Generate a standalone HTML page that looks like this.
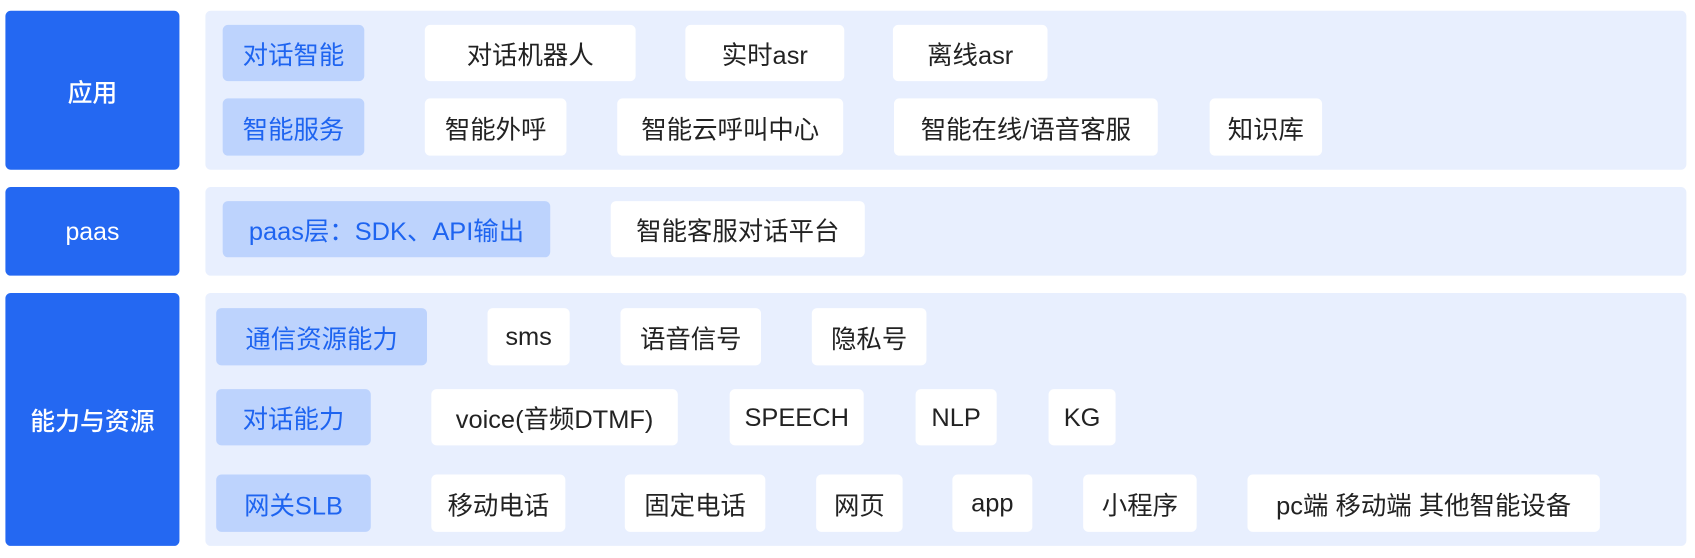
<!DOCTYPE html>
<html><head><meta charset="utf-8"><style>
html,body{margin:0;padding:0;background:#fff;width:1695px;height:558px;overflow:hidden}
#w{position:absolute;left:0;top:0;width:1568px;height:516px;transform:scale(1.081);transform-origin:0 0;font-family:"Liberation Sans","Noto Sans CJK SC",sans-serif}
.b{position:absolute;display:flex;align-items:center;justify-content:center;border-radius:5px;box-sizing:border-box;white-space:nowrap}
.L{background:#2468F2;color:#fff;font-size:23px;font-weight:500}
.P{background:#E8EFFE;border-radius:5px}
.T{background:#BDD3FD;color:#1E64F0;font-size:23.5px}
.I{background:#fff;color:#222;font-size:23.5px}
</style></head><body><div id="w">
<div class="b L" style="left:5px;top:10px;width:161px;height:147px">应用</div>
<div class="b L" style="left:5px;top:173px;width:161px;height:82px">paas</div>
<div class="b L" style="left:5px;top:271px;width:161px;height:234px">能力与资源</div>
<div class="b P" style="left:190px;top:10px;width:1370px;height:147px"></div>
<div class="b P" style="left:190px;top:173px;width:1370px;height:82px"></div>
<div class="b P" style="left:190px;top:271px;width:1370px;height:234px"></div>

<div class="b T" style="left:206px;top:23px;width:131px;height:52px">对话智能</div>
<div class="b I" style="left:393px;top:23px;width:195px;height:52px">对话机器人</div>
<div class="b I" style="left:634px;top:23px;width:147px;height:52px">实时asr</div>
<div class="b I" style="left:826px;top:23px;width:143px;height:52px">离线asr</div>

<div class="b T" style="left:206px;top:91px;width:131px;height:53px">智能服务</div>
<div class="b I" style="left:393px;top:91px;width:131px;height:53px">智能外呼</div>
<div class="b I" style="left:571px;top:91px;width:209px;height:53px">智能云呼叫中心</div>
<div class="b I" style="left:827px;top:91px;width:244px;height:53px">智能在线/语音客服</div>
<div class="b I" style="left:1119px;top:91px;width:104px;height:53px">知识库</div>

<div class="b T" style="left:206px;top:186px;width:303px;height:52px">paas层：SDK、API输出</div>
<div class="b I" style="left:565px;top:186px;width:235px;height:52px">智能客服对话平台</div>

<div class="b T" style="left:200px;top:285px;width:195px;height:53px">通信资源能力</div>
<div class="b I" style="left:451px;top:285px;width:76px;height:53px">sms</div>
<div class="b I" style="left:574px;top:285px;width:130px;height:53px">语音信号</div>
<div class="b I" style="left:751px;top:285px;width:106px;height:53px">隐私号</div>

<div class="b T" style="left:200px;top:360px;width:143px;height:52px">对话能力</div>
<div class="b I" style="left:399px;top:360px;width:228px;height:52px">voice(音频DTMF)</div>
<div class="b I" style="left:675px;top:360px;width:124px;height:52px">SPEECH</div>
<div class="b I" style="left:847px;top:360px;width:75px;height:52px">NLP</div>
<div class="b I" style="left:970px;top:360px;width:62px;height:52px">KG</div>

<div class="b T" style="left:200px;top:439px;width:143px;height:53px">网关SLB</div>
<div class="b I" style="left:399px;top:439px;width:124px;height:53px">移动电话</div>
<div class="b I" style="left:578px;top:439px;width:130px;height:53px">固定电话</div>
<div class="b I" style="left:755px;top:439px;width:80px;height:53px">网页</div>
<div class="b I" style="left:881px;top:439px;width:74px;height:53px">app</div>
<div class="b I" style="left:1002px;top:439px;width:105px;height:53px">小程序</div>
<div class="b I" style="left:1154px;top:439px;width:326px;height:53px">pc端 移动端 其他智能设备</div>
</div></body></html>
